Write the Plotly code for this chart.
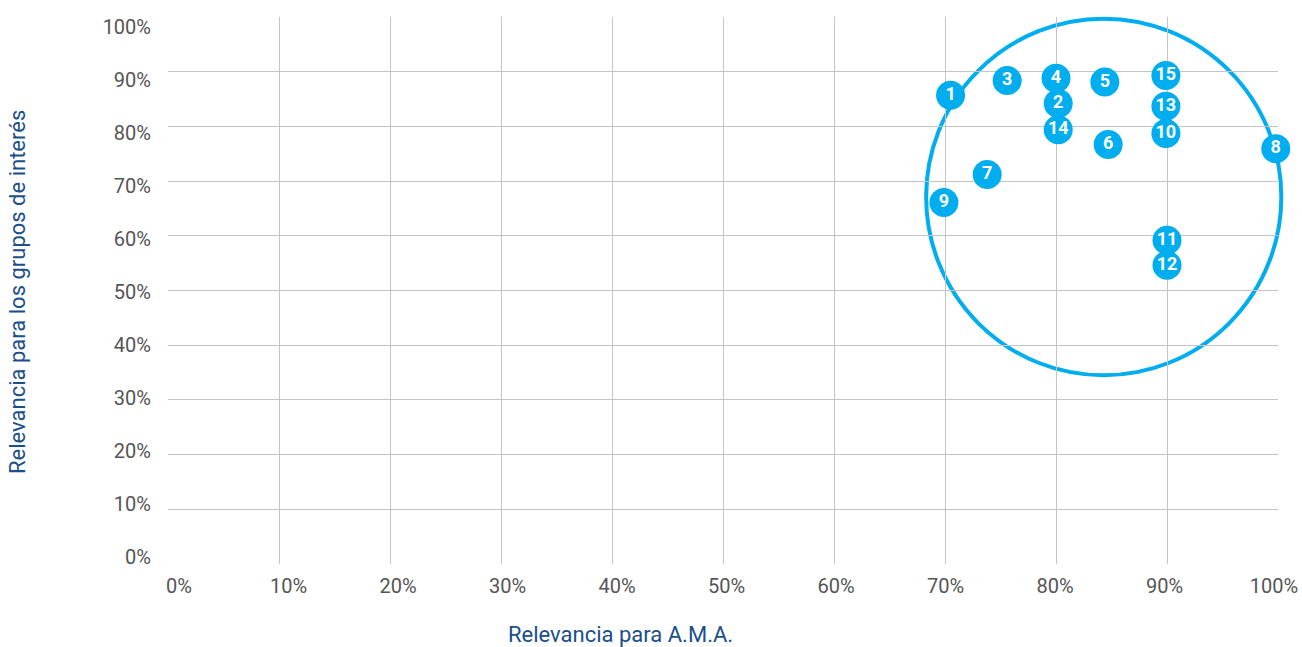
import plotly.graph_objects as go

# Materiality matrix: relevance for A.M.A. (x) vs relevance for stakeholders (y)
topic_ids = ["1", "2", "3", "4", "5", "6", "7", "8", "9", "10", "11", "12", "13", "14", "15"]
relevancia_ama = [0.705, 0.802, 0.756, 0.800, 0.844, 0.847, 0.738, 0.998, 0.699, 0.899, 0.900, 0.900, 0.899, 0.802, 0.899]
relevancia_grupos = [0.857, 0.842, 0.884, 0.888, 0.881, 0.767, 0.712, 0.759, 0.661, 0.787, 0.592, 0.546, 0.837, 0.794, 0.893]

# Highlight ellipse around the most relevant topics (axis units; axes span 0..1)
highlight_center = [0.843, 0.671]
highlight_radius = [0.160, 0.326]

tick_values = [i / 10 for i in range(11)]
tick_labels = [f"{i * 10}%" for i in range(11)]

BLUE = "#00AEEF"
TITLE_BLUE = "#1B4F8A"
GRID = "#C4C4C4"
TICK_FONT = dict(family="Roboto", size=20, color="#555555")
TITLE_FONT = dict(family="Roboto", size=22, color=TITLE_BLUE)

fig = go.Figure()

fig.add_trace(go.Scatter(
    x=relevancia_ama, y=relevancia_grupos,
    mode="markers+text",
    text=topic_ids,
    textposition="middle center",
    textfont=dict(family="Roboto", size=18, color="white", weight="bold"),
    marker=dict(size=29, color=BLUE, line=dict(width=0)),
    hoverinfo="x+y+text",
    cliponaxis=False,
    showlegend=False,
))

# Paper coordinates coincide with data coordinates here (range 0..1 on full domain),
# and paper-referenced shapes are not clipped at the plot edge.
fig.add_shape(
    type="circle", xref="paper", yref="paper", layer="between",
    x0=highlight_center[0] - highlight_radius[0], x1=highlight_center[0] + highlight_radius[0],
    y0=highlight_center[1] - highlight_radius[1], y1=highlight_center[1] + highlight_radius[1],
    line=dict(color=BLUE, width=4),
)

# Label-only axes, slightly tighter spacing than the grid
fig.add_trace(go.Scatter(x=[None], y=[None], xaxis="x2", yaxis="y2", showlegend=False, hoverinfo="skip"))

plot_left, plot_right = 168.3, 1278.3
plot_top, plot_bottom = 16.7, 563.7
W, H = 1302, 647

fig.add_annotation(
    text="Relevancia para A.M.A.", xref="paper", yref="paper",
    x=0.4078, y=-0.128, xanchor="center", yanchor="middle", borderpad=0,
    showarrow=False, font=TITLE_FONT,
)
fig.add_annotation(
    text="Relevancia para los grupos de interés", xref="paper", yref="paper",
    x=-0.1354, y=0.4967, xanchor="center", yanchor="middle", textangle=-90, borderpad=0,
    showarrow=False, font=TITLE_FONT,
)

fig.update_layout(
    width=W, height=H,
    margin=dict(l=plot_left, r=W - plot_right, t=plot_top, b=H - plot_bottom, autoexpand=False),
    paper_bgcolor="white", plot_bgcolor="white",
    xaxis=dict(
        range=[0, 1], tickvals=tick_values[1:-1], showticklabels=False,
        showgrid=True, gridcolor=GRID, gridwidth=1, zeroline=False, showline=False,
        ticks="", fixedrange=True,
    ),
    yaxis=dict(
        range=[0, 1], tickvals=tick_values, showticklabels=False,
        showgrid=True, gridcolor=GRID, gridwidth=1, zeroline=False, showline=False,
        ticks="", fixedrange=True,
    ),
    xaxis2=dict(
        overlaying="x", range=[-0.010046, 1.00365], tickvals=tick_values, ticktext=tick_labels,
        showgrid=False, zeroline=False, showline=False, ticks="", side="bottom",
        tickfont=TICK_FONT, ticklabelstandoff=8, fixedrange=True,
    ),
    yaxis2=dict(
        overlaying="y", range=[-0.012636, 1.01885], tickvals=tick_values, ticktext=tick_labels,
        showgrid=False, zeroline=False, showline=False, ticks="", side="left",
        tickfont=TICK_FONT, ticklabelstandoff=16, fixedrange=True,
    ),
)

fig.write_html("out.html")
